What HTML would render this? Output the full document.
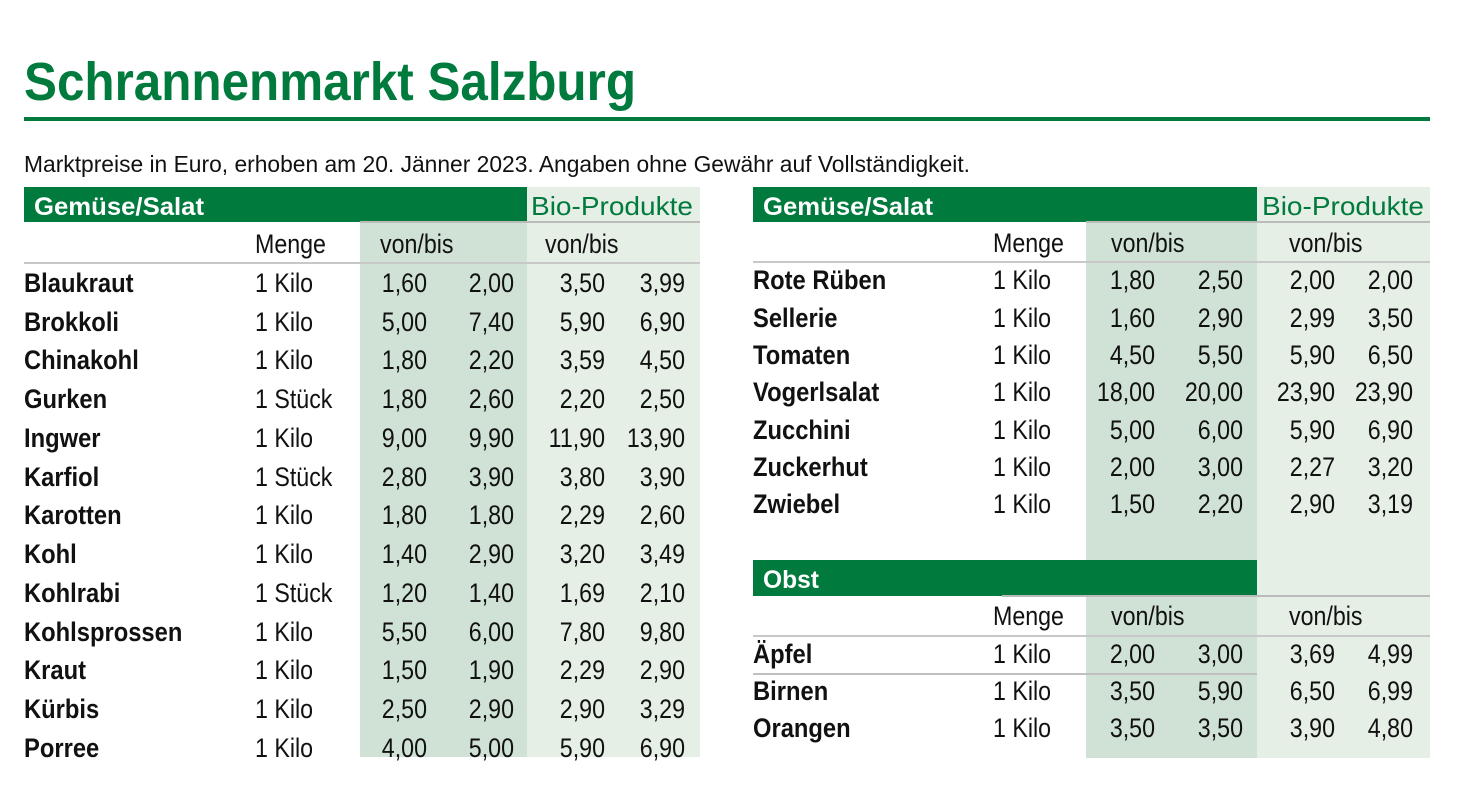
<!DOCTYPE html>
<html><head><meta charset="utf-8"><style>
html,body{margin:0;padding:0;background:#fff;}
svg{display:block;}
text{font-family:"Liberation Sans Narrow","Liberation Sans",sans-serif;fill:#111;}
.n text{font-size:27px;transform-box:fill-box;transform-origin:0 0;transform:scaleX(.86);}
.n text.b{font-weight:bold;transform:scaleX(.88);}
.n text.r{text-anchor:end;transform-origin:100% 0;}
.w{fill:#fff;font-weight:bold;font-size:25px;}
.g{fill:#007a3d;font-size:26px;}
</style></head><body>
<svg width="1478" height="804" viewBox="0 0 1478 804">
<text x="24" y="100" style="fill:#007a3d;font-size:54px;font-weight:bold" textLength="612" lengthAdjust="spacingAndGlyphs">Schrannenmarkt Salzburg</text>
<rect x="24" y="117" width="1406" height="4" fill="#007a3d"/>
<text x="24" y="172" style="font-size:23px" textLength="946" lengthAdjust="spacingAndGlyphs">Marktpreise in Euro, erhoben am 20. Jänner 2023. Angaben ohne Gewähr auf Vollständigkeit.</text>

<!-- LEFT TABLE -->
<rect x="24" y="187" width="503" height="35" fill="#007a3d"/>
<rect x="527" y="187" width="173" height="570" fill="#e5efe6"/>
<rect x="360" y="222" width="167" height="535" fill="#d0e2d5"/>
<rect x="360" y="221" width="340" height="2" fill="#bbb"/>
<rect x="24" y="262" width="676" height="2" fill="#c8c8c8"/>
<text x="34" y="215" class="w" textLength="170" lengthAdjust="spacingAndGlyphs">Gemüse/Salat</text>
<text x="531" y="215" class="g" textLength="162" lengthAdjust="spacingAndGlyphs">Bio-Produkte</text>
<g class="n">
<text x="255" y="253">Menge</text><text x="380" y="253">von/bis</text><text x="545" y="253">von/bis</text>
</g>
<g class="n">
<g transform="translate(0,292)"><text x="24" class="b">Blaukraut</text><text x="255">1 Kilo</text><text x="427" class="r">1,60</text><text x="514" class="r">2,00</text><text x="605" class="r">3,50</text><text x="685" class="r">3,99</text></g>
<g transform="translate(0,331)"><text x="24" class="b">Brokkoli</text><text x="255">1 Kilo</text><text x="427" class="r">5,00</text><text x="514" class="r">7,40</text><text x="605" class="r">5,90</text><text x="685" class="r">6,90</text></g>
<g transform="translate(0,369)"><text x="24" class="b">Chinakohl</text><text x="255">1 Kilo</text><text x="427" class="r">1,80</text><text x="514" class="r">2,20</text><text x="605" class="r">3,59</text><text x="685" class="r">4,50</text></g>
<g transform="translate(0,408)"><text x="24" class="b">Gurken</text><text x="255">1 Stück</text><text x="427" class="r">1,80</text><text x="514" class="r">2,60</text><text x="605" class="r">2,20</text><text x="685" class="r">2,50</text></g>
<g transform="translate(0,447)"><text x="24" class="b">Ingwer</text><text x="255">1 Kilo</text><text x="427" class="r">9,00</text><text x="514" class="r">9,90</text><text x="605" class="r">11,90</text><text x="685" class="r">13,90</text></g>
<g transform="translate(0,486)"><text x="24" class="b">Karfiol</text><text x="255">1 Stück</text><text x="427" class="r">2,80</text><text x="514" class="r">3,90</text><text x="605" class="r">3,80</text><text x="685" class="r">3,90</text></g>
<g transform="translate(0,524)"><text x="24" class="b">Karotten</text><text x="255">1 Kilo</text><text x="427" class="r">1,80</text><text x="514" class="r">1,80</text><text x="605" class="r">2,29</text><text x="685" class="r">2,60</text></g>
<g transform="translate(0,563)"><text x="24" class="b">Kohl</text><text x="255">1 Kilo</text><text x="427" class="r">1,40</text><text x="514" class="r">2,90</text><text x="605" class="r">3,20</text><text x="685" class="r">3,49</text></g>
<g transform="translate(0,602)"><text x="24" class="b">Kohlrabi</text><text x="255">1 Stück</text><text x="427" class="r">1,20</text><text x="514" class="r">1,40</text><text x="605" class="r">1,69</text><text x="685" class="r">2,10</text></g>
<g transform="translate(0,641)"><text x="24" class="b">Kohlsprossen</text><text x="255">1 Kilo</text><text x="427" class="r">5,50</text><text x="514" class="r">6,00</text><text x="605" class="r">7,80</text><text x="685" class="r">9,80</text></g>
<g transform="translate(0,679)"><text x="24" class="b">Kraut</text><text x="255">1 Kilo</text><text x="427" class="r">1,50</text><text x="514" class="r">1,90</text><text x="605" class="r">2,29</text><text x="685" class="r">2,90</text></g>
<g transform="translate(0,718)"><text x="24" class="b">Kürbis</text><text x="255">1 Kilo</text><text x="427" class="r">2,50</text><text x="514" class="r">2,90</text><text x="605" class="r">2,90</text><text x="685" class="r">3,29</text></g>
<g transform="translate(0,757)"><text x="24" class="b">Porree</text><text x="255">1 Kilo</text><text x="427" class="r">4,00</text><text x="514" class="r">5,00</text><text x="605" class="r">5,90</text><text x="685" class="r">6,90</text></g>
</g>

<!-- RIGHT TABLE -->
<rect x="753" y="187" width="504" height="35" fill="#007a3d"/>
<rect x="1257" y="187" width="173" height="571" fill="#e5efe6"/>
<rect x="1086" y="222" width="171" height="536" fill="#d0e2d5"/>
<rect x="1086" y="221" width="344" height="2" fill="#bbb"/>
<rect x="753" y="261" width="677" height="2" fill="#c8c8c8"/>
<rect x="753" y="560" width="504" height="36" fill="#007a3d"/>
<rect x="1002" y="595" width="428" height="2" fill="#bbb"/>
<rect x="753" y="635" width="677" height="2" fill="#c8c8c8"/>
<rect x="753" y="673" width="504" height="2" fill="#c0c0c0"/>
<text x="763" y="215" class="w" textLength="170" lengthAdjust="spacingAndGlyphs">Gemüse/Salat</text>
<text x="1262" y="215" class="g" textLength="162" lengthAdjust="spacingAndGlyphs">Bio-Produkte</text>
<text x="763" y="588" class="w" textLength="56" lengthAdjust="spacingAndGlyphs">Obst</text>
<g class="n">
<text x="993" y="252">Menge</text><text x="1111" y="252">von/bis</text><text x="1289" y="252">von/bis</text>
<text x="993" y="625">Menge</text><text x="1111" y="625">von/bis</text><text x="1289" y="625">von/bis</text>
</g>
<g class="n">
<g transform="translate(0,289)"><text x="753" class="b">Rote Rüben</text><text x="993">1 Kilo</text><text x="1155" class="r">1,80</text><text x="1243" class="r">2,50</text><text x="1335" class="r">2,00</text><text x="1413" class="r">2,00</text></g>
<g transform="translate(0,327)"><text x="753" class="b">Sellerie</text><text x="993">1 Kilo</text><text x="1155" class="r">1,60</text><text x="1243" class="r">2,90</text><text x="1335" class="r">2,99</text><text x="1413" class="r">3,50</text></g>
<g transform="translate(0,364)"><text x="753" class="b">Tomaten</text><text x="993">1 Kilo</text><text x="1155" class="r">4,50</text><text x="1243" class="r">5,50</text><text x="1335" class="r">5,90</text><text x="1413" class="r">6,50</text></g>
<g transform="translate(0,401)"><text x="753" class="b">Vogerlsalat</text><text x="993">1 Kilo</text><text x="1155" class="r">18,00</text><text x="1243" class="r">20,00</text><text x="1335" class="r">23,90</text><text x="1413" class="r">23,90</text></g>
<g transform="translate(0,439)"><text x="753" class="b">Zucchini</text><text x="993">1 Kilo</text><text x="1155" class="r">5,00</text><text x="1243" class="r">6,00</text><text x="1335" class="r">5,90</text><text x="1413" class="r">6,90</text></g>
<g transform="translate(0,476)"><text x="753" class="b">Zuckerhut</text><text x="993">1 Kilo</text><text x="1155" class="r">2,00</text><text x="1243" class="r">3,00</text><text x="1335" class="r">2,27</text><text x="1413" class="r">3,20</text></g>
<g transform="translate(0,513)"><text x="753" class="b">Zwiebel</text><text x="993">1 Kilo</text><text x="1155" class="r">1,50</text><text x="1243" class="r">2,20</text><text x="1335" class="r">2,90</text><text x="1413" class="r">3,19</text></g>
<g transform="translate(0,663)"><text x="753" class="b">Äpfel</text><text x="993">1 Kilo</text><text x="1155" class="r">2,00</text><text x="1243" class="r">3,00</text><text x="1335" class="r">3,69</text><text x="1413" class="r">4,99</text></g>
<g transform="translate(0,700)"><text x="753" class="b">Birnen</text><text x="993">1 Kilo</text><text x="1155" class="r">3,50</text><text x="1243" class="r">5,90</text><text x="1335" class="r">6,50</text><text x="1413" class="r">6,99</text></g>
<g transform="translate(0,737)"><text x="753" class="b">Orangen</text><text x="993">1 Kilo</text><text x="1155" class="r">3,50</text><text x="1243" class="r">3,50</text><text x="1335" class="r">3,90</text><text x="1413" class="r">4,80</text></g>
</g>
</svg>
</body></html>
